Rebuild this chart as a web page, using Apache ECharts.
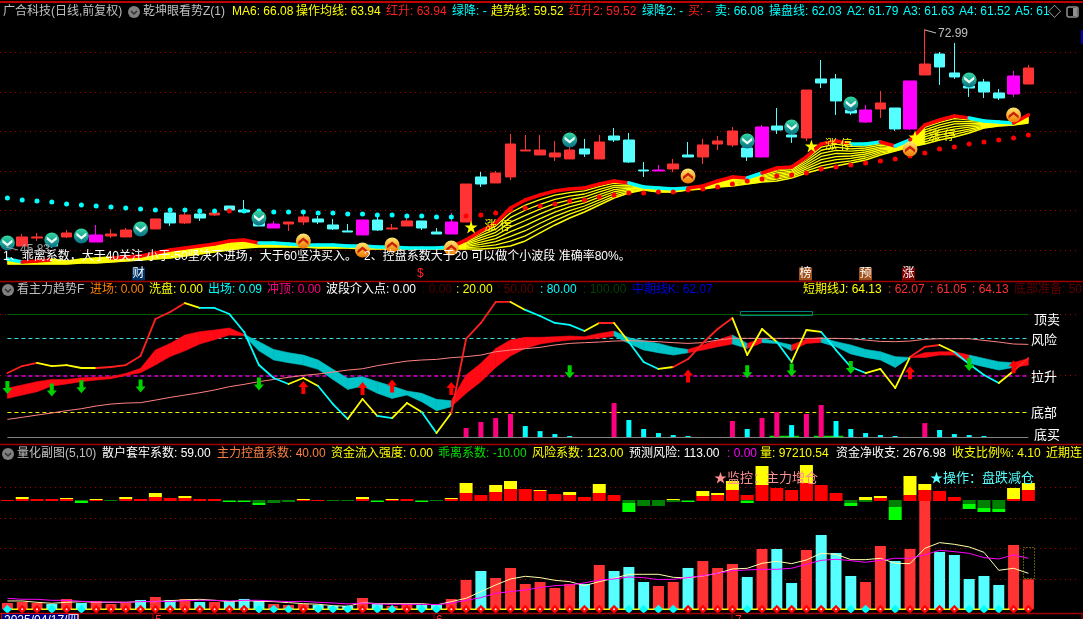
<!DOCTYPE html>
<html><head><meta charset="utf-8">
<style>html,body{margin:0;padding:0;background:#000;overflow:hidden}#c{width:1083px;height:619px}</style>
<script src="https://cdn.jsdelivr.net/npm/echarts@6/dist/echarts.min.js"></script></head>
<body><div id="c"></div>
<script>
const _ = null;
const candleKind = 'mrrcrcmrrcrcrcrcccmrrcccmcrrccmrcrrrrrrcrcccmrcrrrcmccrcccmrcmrcccccmr'.split('');
const bodyTop = [46.48,46.98,46.98,47.1,47.48,47.48,47.23,47.35,47.85,48.48,49.23,49.98,49.73,49.85,49.98,50.85,50.35,49.35,48.6,48.85,49.48,49.23,48.48,47.73,49.1,49.1,48.1,48.98,48.98,47.6,48.85,53.6,54.48,54.98,58.6,57.85,57.85,57.48,57.85,57.98,58.85,59.6,59.1,55.35,55.35,56.1,57.23,58.48,58.98,60.23,58.1,60.73,60.85,59.73,65.35,66.73,66.73,62.85,62.85,63.73,63.1,66.48,68.6,69.85,67.48,65.85,66.35,64.98,67.1,68.1];
const bodyBottom = [45.85,45.85,46.85,45.85,46.98,46.73,46.35,47.1,46.98,47.6,47.98,48.73,48.73,49.35,49.73,50.35,50.1,48.35,48.1,48.6,48.85,48.85,47.98,47.6,47.23,47.85,47.98,48.35,48.1,47.35,47.35,48.85,53.6,53.73,54.48,57.73,57.23,56.98,56.73,57.35,56.73,59.1,56.35,55.23,55.23,55.48,56.98,56.98,58.6,58.48,56.98,56.98,60.35,59.48,59.35,66.23,63.98,62.48,61.35,62.98,60.48,60.48,67.23,68.23,66.98,65.6,65.1,64.35,64.85,66.1];
const wickHigh = [46.48,47.35,47.48,47.35,47.85,47.73,48.48,47.98,48.1,48.73,49.23,50.6,50.1,50.35,50.35,50.85,51.6,49.85,48.98,48.85,49.85,49.6,49.23,48.6,49.1,49.48,48.6,49.35,48.98,48.1,49.98,53.6,55.1,55.23,59.85,59.73,59.73,58.98,58.35,59.23,59.73,60.6,59.98,56.35,55.98,56.73,58.85,59.23,59.6,60.73,58.6,60.98,63.1,60.35,65.35,69.1,67.35,63.35,63.48,65.23,63.1,66.48,72.99,70.1,71.23,66.35,66.73,65.48,67.73,68.48];
const wickLow = [45.83,45.85,46.48,45.6,46.85,46.48,46.35,46.85,46.98,47.35,47.98,48.35,48.6,48.98,49.6,50.23,49.98,48.35,48.1,47.73,48.48,48.6,47.85,47.6,47.23,47.73,47.85,48.35,47.85,47.35,47.35,48.85,53.23,53.73,54.1,57.73,57.23,56.48,56.73,56.98,56.73,58.85,56.23,54.48,55.23,55.1,56.98,56.1,57.85,58.23,56.48,56.98,59.85,58.73,58.98,65.6,62.23,62.23,61.23,61.85,60.23,60.35,67.23,65.98,66.73,64.48,64.35,64.1,64.48,66.1];
const bandTop = [44.23,43.85,43.98,44.1,43.85,44.1,44.23,44.35,44.48,44.6,44.98,45.35,45.6,45.85,46.1,46.48,46.6,46.23,46.23,46.1,45.98,45.98,45.98,45.85,45.85,45.73,45.73,45.6,45.6,45.6,45.73,46.6,47.73,48.73,50.6,51.6,52.23,52.73,52.98,53.1,53.6,53.98,53.73,53.23,53.1,52.98,53.1,53.35,53.98,54.48,54.35,54.98,55.6,55.73,56.98,58.6,58.98,58.6,58.6,58.85,58.35,59.1,60.98,61.6,62.1,61.85,61.48,61.35,61.23,62.23];
const bandBottom = [43.6,43.6,43.6,43.6,43.6,43.73,43.73,43.85,43.98,44.1,44.23,44.35,44.6,44.85,45.1,45.35,45.6,45.73,45.73,45.73,45.73,45.6,45.6,45.6,45.48,45.48,45.48,45.48,45.48,45.48,45.48,45.48,45.48,45.6,45.85,46.48,47.48,48.48,49.35,50.1,50.98,51.85,52.48,52.85,52.6,52.6,52.85,52.98,53.23,53.35,53.6,53.85,53.98,54.35,54.98,55.48,55.85,56.23,56.6,57.23,57.73,58.23,58.6,59.1,59.48,59.98,60.6,60.85,60.98,61.23];
const bandTopKind = 'crryyyyrrrrrrrrrrcccccccccccccrrrrrrrrrrrrccccrrrrcrrrrrrccrcrrrrcccrr'.split('');
const hatchLead = [_,_,_,_,_,_,_,_,_,_,_,_,_,_,_,_,_,_,_,_,_,_,_,_,_,_,_,_,_,_,_];
const A1 = [46.46,47.45,48.34,50.01,50.96,51.64,52.2,52.53,52.73,53.27,53.71,53.57,53.18,53.04,52.93,53.07,53.3,53.89,54.34,54.26,54.84,55.4,55.56,56.73,58.21,58.59,58.3,58.35,58.65,58.27,58.99,60.68,61.29,61.77,61.62,61.37,61.29,61.2,62.1];
const A2 = [46.32,47.17,47.95,49.42,50.32,51.05,51.67,52.08,52.35,52.94,53.44,53.41,53.13,52.98,52.88,53.04,53.25,53.8,54.2,54.17,54.7,55.2,55.39,56.48,57.82,58.2,58.0,58.1,58.45,58.19,58.88,60.38,60.98,61.44,61.39,61.26,61.23,61.17,61.98];
const A3 = [46.18,46.89,47.56,48.83,49.68,50.46,51.14,51.63,51.98,52.61,53.17,53.25,53.08,52.92,52.83,53.01,53.2,53.71,54.06,54.08,54.56,55.0,55.22,56.23,57.43,57.81,57.7,57.85,58.25,58.11,58.77,60.08,60.67,61.11,61.16,61.15,61.17,61.14,61.85];
const A4 = [46.04,46.61,47.17,48.24,49.04,49.87,50.61,51.18,51.6,52.28,52.9,53.09,53.03,52.86,52.78,52.98,53.15,53.62,53.92,53.99,54.42,54.8,55.05,55.98,57.04,57.42,57.4,57.6,58.05,58.03,58.66,59.78,60.36,60.78,60.93,61.04,61.11,61.11,61.73];
const A5 = [45.9,46.33,46.78,47.65,48.4,49.28,50.08,50.73,51.23,51.95,52.63,52.93,52.98,52.8,52.73,52.95,53.1,53.53,53.78,53.9,54.28,54.6,54.88,55.73,56.65,57.03,57.1,57.35,57.85,57.95,58.55,59.48,60.05,60.45,60.7,60.93,61.05,61.08,61.6];
const A6 = [45.76,46.05,46.39,47.06,47.76,48.69,49.55,50.28,50.85,51.62,52.36,52.77,52.93,52.74,52.68,52.92,53.05,53.44,53.64,53.81,54.14,54.4,54.71,55.48,56.26,56.64,56.8,57.1,57.65,57.87,58.44,59.18,59.74,60.12,60.47,60.82,60.99,61.05,61.48];
const A7 = [45.62,45.77,46.0,46.47,47.12,48.1,49.02,49.83,50.48,51.29,52.09,52.61,52.88,52.68,52.63,52.89,53.0,53.35,53.5,53.72,54.0,54.2,54.54,55.23,55.87,56.25,56.5,56.85,57.45,57.79,58.33,58.88,59.43,59.79,60.24,60.71,60.93,61.02,61.35];
const stopCyan = [51.85,51.6,51.48,51.35,51.1,50.98,50.85,50.73,50.6,50.48,50.35,50.35,50.35,50.23,50.23,_,50.23,50.23,50.1,50.1,50.1,49.98,49.98,49.85,49.85,49.73,49.73,49.6,49.6,49.48,49.48];
const stopRed = [_,_,_,_,_,_,_,_,_,_,_,_,_,_,_,50.23,_,_,_,_,_,_,_,_,_,_,_,_,_,_,_,49.6,49.73,49.98,50.35,50.6,50.85,51.1,51.48,51.6,51.98,52.23,52.48,52.48,52.6,52.6,52.85,52.98,53.23,53.6,53.98,54.23,54.6,54.73,54.98,55.48,55.73,55.98,56.23,56.48,56.73,57.1,57.48,57.98,58.23,58.6,58.85,59.1,59.35,59.73];
const downIcons = [[0,46.23],[3,46.6],[5,47.1],[9,47.98],[17,49.35],[38,59.1],[50,58.98],[53,60.73],[57,63.6],[65,66.6]];
const upIcons = [[20,46.48],[24,45.35],[26,45.98],[30,45.6],[46,54.6],[61,57.98],[68,62.23]];
const starMarks = [[31,48.23],[54,58.35],[61,59.48]];
const priceGrid = [70.1,65.1,60.2,55.25,50.35,45.35];

const lineJ = [52,57.7,60.2,57.7,58.5,56.1,56.1,56.9,58.5,65.9,95.9,101.6,108.9,104.9,104.9,100,85.4,58.5,48,43.1,48,41.5,26.8,14.6,30.9,17.1,15.4,27.6,20.3,3.3,19.5,79.7,92.7,109.8,109.8,103.3,98.4,92.7,91.1,86.2,92.7,92.7,77.2,61,55.3,56.9,63.4,76.4,87.8,96.7,66.7,87.8,77.2,61,87,85.4,70.7,56.9,52,55.3,39.8,65,73.2,74.8,69.1,59.3,50.4,43.9,53.7,64.13];
const lineJKind = ('rryyyyrrrr'+'rryccccccy'+'yccyycyycy'+'rrrryccccy'+'ryccyrrrry'+'yycyycccyy'+'yrrycccyrr').split('');
const ribbonUpper = [39.6,42.3,45,46.8,46.8,48.2,48.5,49,51.7,55.8,70.7,76.1,82.9,85.6,87,88.6,83.4,77.5,71.2,68.5,66.6,62.6,55,47.7,49,45,41.4,37.4,35.5,30.6,29.5,50.4,59.9,72,78.8,81,81,81.5,82.1,81.5,84.2,86.1,80.7,78.3,76.1,72.9,71.2,74.8,78.8,82.9,76.1,80.2,77.5,74.8,79.4,81,77.5,74.8,71.2,69.3,65.3,64.7,68.5,69.3,69.3,66.6,63.9,61.2,60.4,63.9];
const ribbonLower = [31.4,34.1,36.8,41.4,43.1,45,46.3,47.4,50.1,52.3,58.5,65.5,70.1,75.6,79.1,82.9,82.3,70.1,62.6,60.4,58.5,55,46.8,38.7,41.4,35.5,31.4,34.1,28.7,21.4,24.6,35.5,45,56.6,65.8,72,75.6,77.5,78.8,79.4,80.2,82.1,76.1,70.7,68.5,66.6,68.5,70.7,73.4,75.6,72,76.7,76.1,70.1,76.1,76.9,73.4,67.5,64.7,62.6,56.6,64.7,64.7,66.6,66.6,59.9,57.2,54.4,56.6,58.5];
const ribbonKind = ('rrrrrrrrrr'+'rrrrrrtttt'+'tttttttttt'+'rrrrrrrrrr'+'rtttttrrrt'+'rttrrttttt'+'trrrrtttrr').split('');
const slowLine = [14.3,16,17.8,19.5,21.4,23,25.2,26.8,27.6,27.9,30,32.2,34.1,36,38.2,40.9,42.8,45,46.8,48.5,50.1,51.2,52.8,54.4,55.5,58,59.9,61.7,62.6,63.1,64.5,65.3,66.6,69.3,70.7,71.8,72.9,74.8,76.1,76.7,77.2,78,78.3,78,77.5,76.7,76.1,76.7,78.8,80.2,80.2,80.2,80.2,80.2,80.2,80.2,80.2,79.9,78.8,77.7,77.5,78,79.4,79.9,79.9,79.9,78.5,77.2,75.6,75.3];
const pinkBars = [_,_,_,_,_,_,_,_,_,_,_,_,_,_,_,_,_,_,_,_,_,_,_,_,_,_,_,_,_,_,_,7.3,12.2,15.4,18.7,_,_,_,_,_,_,27.6,_,_,_,_,_,_,_,13,_,15.4,20.3,_,18.7,26,_,_,_,_,_,_,11.3,_,_,_,_,_,_,_];
const cyanBars = [_,_,_,_,_,_,_,_,_,_,_,_,_,_,_,_,_,_,_,_,_,_,_,_,_,_,_,_,_,_,_,_,_,_,_,8.9,4.8,2.4,.8,_,_,_,13.8,6.5,3.2,1.6,.8,_,_,_,6.5,_,_,9.7,_,_,13,6.5,3.2,1.6,.8,_,_,5.7,2.4,1.6,.8,_,_,_];
const greenBase = [52,53,55,56];
const greenArrows = [[0,40.3],[3,38.2],[5,40.9],[9,41.4],[17,43.1],[38,53.1],[50,53.1],[53,54.4],[57,56.6],[65,59]];
const redArrows = [[20,40.3],[24,39.5],[26,41.4],[30,39.5],[46,49.6],[61,52.3],[68,57.2]];
const levels = [100,80,50,20,0];

const histRed = [4,8,8,8,8,0,4,0,8,8,16,12,12,8,8,0,0,0,0,0,4,4,0,0,8,0,4,8,0,0,8,32,24,36,48,48,40,28,24,16,32,24,0,0,0,0,0,20,24,44,24,64,52,44,72,64,32,0,0,12,0,24,44,40,16,0,0,0,8,44];
const histYellow = [0,8,0,0,4,0,4,0,8,0,16,0,8,0,0,0,0,0,0,0,4,0,0,0,8,0,4,0,0,0,4,40,0,28,32,0,4,0,12,0,36,0,0,0,0,8,0,20,8,36,0,76,0,0,72,0,0,0,16,8,0,76,24,0,0,0,0,0,44,28];
const histDark = [0,0,0,0,0,-4,0,-4,0,0,0,0,0,0,0,-4,-4,-12,-12,-8,0,0,-4,-4,0,-4,0,0,-4,-4,0,0,0,0,0,0,0,0,0,0,0,0,-12,-24,-24,-8,-4,0,0,0,-4,0,0,0,0,0,0,-12,-8,0,-28,0,0,0,0,-16,-32,-36,0,0];
const histBright = [0,0,0,0,0,-8,0,0,0,0,0,0,0,0,0,-4,-4,-8,0,0,0,0,0,0,0,-4,0,0,-4,0,0,0,0,0,0,0,0,0,0,0,0,0,-36,0,0,0,-4,0,0,0,-8,0,0,0,0,0,0,-12,0,0,-52,0,0,0,0,-20,-16,-12,0,0];
const volumes = [20520,23760,20520,17280,33480,20520,27000,17280,20520,30240,39960,30240,33480,23760,23760,27000,33480,27000,17280,14040,17280,14040,10800,10800,36720,17280,10800,17280,14040,14040,33480,95040,124200,101520,133920,82080,88560,69120,82080,82080,143640,124200,137160,88560,75600,88560,133920,156600,133920,146880,104760,195480,195480,85320,192240,240840,182520,108000,88560,205200,156600,195480,354240,185760,176040,98280,108000,78840,208440,97210.54];
const volKind = ('rrrcrcrrrc'+'rcrcrcccrr'+'rcccrcrrcc'+'rrcrrrrrrc'+'rcccrrcrrr'+'crccrcccrr'+'crrcccccrr').split('');
const dotKind = ('crrcrcrrrr'+'rrrrrrrccc'+'rcccrccrcc'+'rrrrrrrrrr'+'rrccccrrrr'+'crrrrrrccr'+'crrrrcccrr').split('');
const volMA5 = [27000,27000,22680,19440,22680,24840,22680,22680,22680,24840,24840,28080,30240,32400,29160,24840,28080,25920,24840,21600,18360,16200,11880,9720,21600,18360,18360,18360,18360,14040,24840,35640,57240,78840,98280,106920,102600,93960,89640,76680,89640,100440,113400,113400,113400,103680,101520,108000,116640,130680,132840,149040,155520,147960,159840,181440,178200,160920,160920,165240,149040,147960,197640,216000,210600,201960,184680,126360,132840,116640];
const volMA10 = [35640,32400,32400,29160,29160,25920,23760,23760,22680,24840,25920,24840,28080,29160,29160,27000,29160,29160,27000,24840,25920,22680,20520,17280,20520,17280,16200,16200,16200,15120,19440,29160,37800,51840,57240,62640,70200,76680,78840,85320,95040,98280,104760,102600,96120,97200,102600,109080,116640,125280,127440,129600,129600,132840,145800,158760,162000,157680,152280,158760,165240,165240,176040,191160,186840,181440,167400,163080,176040,165240];
const histGrid = [396000,295800,198600,98200];

const categories = candleKind.map((k,i)=>String(i)).concat(['','','']);
const header1 = [['广合科技(日线,前复权)',3,'#c0c0c0'],['乾坤眼看势Z(1)',143,'#c0c0c0'],['MA6: 66.08',232,'#ffff00'],['操作均线: 63.94',296,'#ffff00'],['红升: 63.94',386,'#ff2020'],['绿降: -',452,'#00ffff'],['趋势线: 59.52',491,'#ffff00'],['红升2: 59.52',569,'#ff2020'],['绿降2: -',642,'#00ffff'],['买: -',688,'#ff2020'],['卖: 66.08',715,'#00ffff'],['操盘线: 62.03',769,'#00ffff'],['A2: 61.79',847,'#00ffff'],['A3: 61.63',903,'#00ffff'],['A4: 61.52',959,'#00ffff'],['A5: 61',1015,'#00ffff']];
const header2 = [['看主力趋势F',17,'#c0c0c0'],['进场: 0.00',90,'#ff8000'],['洗盘: 0.00',149,'#ffff00'],['出场: 0.09',208,'#00ffff'],['冲顶: 0.00',267,'#ff0080'],['波段介入点: 0.00',326,'#ffffff'],[': 0.00',422,'#500000'],[': 20.00',456,'#ffff00'],[': 50.00',497,'#600000'],[': 80.00',540,'#00ffff'],[': 100.00',583,'#004000'],['中期线K: 62.07',632,'#0000e0'],['短期线J: 64.13',803,'#ffff00'],[': 62.07',888,'#ff3030'],[': 61.05',930,'#ff3030'],[': 64.13',972,'#ff3030'],['底部准备: 50',1014,'#600000']];
const header3 = [['量化副图(5,10)',17,'#c0c0c0'],['散户套牢系数: 59.00',102,'#ffffff'],['主力控盘系数: 40.00',217,'#ff8040'],['资金流入强度: 0.00',331,'#ffff00'],['乖离系数: -10.00',438,'#00e000'],['风险系数: 123.00',532,'#ffff00'],['预测风险: 113.00',629,'#ffffff'],[': 0.00',727,'#ff00ff'],['量: 97210.54',760,'#ffff00'],['资金净收支: 2676.98',836,'#ffffff'],['收支比例%: 4.10',952,'#ffff00'],['近期连',1046,'#ffff00']];
const rightLabels = [['顶卖',1034,320],['风险',1031,340],['拉升',1031,377],['底部',1031,413],['底买',1034,435]];
const noteA = '1、乖离系数，大于40关注 小于-50坚决不进场，大于60坚决买入。';
const noteB = '2、控盘系数大于20 可以做个小波段 准确率80%。';

const FONT = '"Liberation Sans","Noto Sans CJK SC",sans-serif';
const COL = {r:'#ff3333',c:'#55ffff',m:'#ff00ff'};
const n = candleKind.length;

function gridAt(top,height){return {left:-1.71,width:1081.86,top,height,containLabel:false,show:false};}
function segs(name,values,kinds,map,width,x,y,z){
  return {type:'custom',name,xAxisIndex:x,yAxisIndex:y,z,silent:true,clip:false,
    data:values.slice(0,-1).map((v,i)=>[i,v,values[i+1]]),encode:{x:0,y:1},
    renderItem(p,api){
      const i=api.value(0),a=api.coord([i,api.value(1)]),b=api.coord([i+1,api.value(2)]);
      return {type:'line',shape:{x1:a[0],y1:a[1],x2:b[0],y2:b[1]},style:{stroke:map[kinds[i]],lineWidth:width,lineCap:'round'}};
    }};
}
function ribbon(name,up,lo,colorOf,x,y,z){
  return {type:'custom',name,xAxisIndex:x,yAxisIndex:y,z,silent:true,clip:false,
    data:up.slice(0,-1).map((v,i)=>[i,v,lo[i],up[i+1],lo[i+1]]),encode:{x:0,y:1},
    renderItem(p,api){
      const i=api.value(0),c=colorOf(i,api.value(1)-api.value(2));
      if(!c) return null;
      const pts=[api.coord([i,api.value(1)]),api.coord([i+1,api.value(3)]),api.coord([i+1,api.value(4)]),api.coord([i,api.value(2)])];
      return {type:'polygon',shape:{points:pts},style:{fill:c,stroke:c,lineWidth:.6}};
    }};
}
function candleSeries(kind,barWidth){
  const color=COL[kind];
  return {type:'candlestick',name:kind,xAxisIndex:0,yAxisIndex:0,z:4,barWidth,silent:true,
    itemStyle:{color,color0:color,borderColor:color,borderColor0:color,borderWidth:1},
    data:candleKind.map((k,i)=>k===kind?[bodyBottom[i],bodyTop[i],wickLow[i],wickHigh[i]]:['-','-','-','-'])};
}
function hatch(name,vals){
  return {type:'line',name,xAxisIndex:0,yAxisIndex:0,z:3,silent:true,showSymbol:false,symbol:'none',
    data:hatchLead.concat(vals),lineStyle:{color:'#ffff00',width:1.3}};
}
function dots(name,x,symbol,size,data,color,z,extra){
  return Object.assign({type:'scatter',name,xAxisIndex:x,yAxisIndex:x,z,silent:true,symbol,symbolSize:size,data,itemStyle:{color,opacity:1}},extra||{});
}
const dottedLine = (vals,y,color) => ({type:'line',xAxisIndex:y,yAxisIndex:y,data:[],silent:true,z:1,
  markLine:{silent:true,symbol:'none',z:1,label:{show:false},animation:false,lineStyle:{color,type:[1,4],width:1},data:vals.map(v=>({yAxis:v}))}});
const levelStyle = {100:['#006000','solid',1],80:['#33dddd',[4,3],1.2],50:['#e000e0',[4,3],1.6],20:['#eeee00',[4,3],1.2],0:['#808080','solid',1]};

const downPath='path://M0 0L5 4L10 0V3L5 7L0 3Z';
const upPath='path://M0 7L5 3L10 7V4L5 0L0 4Z';
const arrowDown='path://M3 0H7V7H10L5 13L0 7H3Z';
const arrowUp='path://M5 0L10 6H7V13H3V6H0Z';
const starPath='path://M50 0L61 35H98L68 57L79 91L50 70L21 91L32 57L2 35H39Z';
const gradDown={type:'linear',x:0,y:0,x2:0,y2:1,colorStops:[{offset:0,color:'#33d8a0'},{offset:1,color:'#0b6f86'}]};
const gradUp={type:'linear',x:0,y:0,x2:0,y2:1,colorStops:[{offset:0,color:'#ffe870'},{offset:1,color:'#f07800'}]};

const series=[
  dottedLine(priceGrid,0,'#a00000'),
  ribbon('bandSolid',bandTop,bandBottom,(i,d)=>(i<31||d<1)?'#ffff00':null,0,0,2),
  hatch('A1',A1),hatch('A2',A2),hatch('A3',A3),hatch('A4',A4),hatch('A5',A5),hatch('A6',A6),hatch('A7',A7),
  {type:'line',name:'bandBottom',xAxisIndex:0,yAxisIndex:0,z:3,silent:true,symbol:'none',data:bandBottom,lineStyle:{color:'#ffff00',width:1.5}},
  segs('bandTop',bandTop,bandTopKind,{r:'#ff0000',c:'#00ffff',y:'#ffff00'},3.6,0,0,4),
  candleSeries('r',11),candleSeries('c',11),candleSeries('m',13),
  dots('stopCyan',0,'circle',5,stopCyan,'#00ffff',5),
  dots('stopRed',0,'circle',5,stopRed,'#ff0000',5),
  dots('starMarks',0,starPath,13,starMarks,'#ffff00',6,{symbolOffset:[5,0],
    label:{show:true,position:'right',distance:2,formatter:'涨 停',color:'#ffff00',fontFamily:FONT,fontSize:12,offset:[5,0]}}),
  dots('downIcons',0,'circle',15,downIcons,gradDown,7),
  dots('downChevron',0,downPath,[10,7],downIcons,'#e8fff8',8),
  dots('upIcons',0,'circle',15,upIcons,gradUp,7),
  dots('upChevron',0,upPath,[10,7],upIcons,'#c82000',8),

  dottedLine([100,50],1,'#a00000'),
  {type:'line',xAxisIndex:1,yAxisIndex:1,data:[],silent:true,z:2,markLine:{silent:true,symbol:'none',z:2,label:{show:false},animation:false,
    data:levels.map(v=>[{coord:[0,v],lineStyle:{color:levelStyle[v][0],type:levelStyle[v][1],width:levelStyle[v][2]}},{coord:[n-1,v]}])}},
  {type:'bar',name:'pink',xAxisIndex:1,yAxisIndex:1,z:3,silent:true,stack:'b',barWidth:5,data:pinkBars,itemStyle:{color:'#ff0080'}},
  {type:'bar',name:'cyan',xAxisIndex:1,yAxisIndex:1,z:3,silent:true,stack:'b',barWidth:5,data:cyanBars,itemStyle:{color:'#00ffff'}},
  {type:'custom',name:'greenBase',xAxisIndex:1,yAxisIndex:1,z:3,silent:true,clip:false,data:greenBase.map(i=>[i,1]),encode:{x:0,y:1},
    renderItem(p,api){const a=api.coord([api.value(0),api.value(1)]),s=api.size([1,0]);
      return {type:'rect',shape:{x:a[0]-s[0]/2,y:a[1],width:s[0],height:1.5},style:{fill:'#00e000'}};}},
  ribbon('ribbon',ribbonUpper,ribbonLower,i=>({r:'#ff0a14',t:'#00c4c8'})[ribbonKind[i]],1,1,4),
  {type:'line',name:'slow',xAxisIndex:1,yAxisIndex:1,z:5,silent:true,symbol:'none',data:slowLine,lineStyle:{color:'#ff8080',width:1}},
  segs('J',lineJ,lineJKind,{r:'#ff2020',y:'#ffff00',c:'#00ffff'},1.8,1,1,6),
  dots('greenArrows',1,arrowDown,[10,13],greenArrows,'#00d000',7),
  dots('redArrows',1,arrowUp,[10,13],redArrows,'#ff0000',7),

  dottedLine(histGrid,3,'#a00000'),
  {type:'bar',name:'vol',xAxisIndex:3,yAxisIndex:3,z:2,silent:true,barWidth:11,
    data:volumes.map((v,i)=>({value:v,itemStyle:{color:COL[volKind[i]]}}))},
  {type:'line',name:'base',xAxisIndex:3,yAxisIndex:3,z:4,silent:true,symbol:'none',data:volumes.map(()=>0),lineStyle:{color:'#ffff00',width:1.5}},
  {type:'line',name:'MA5',xAxisIndex:3,yAxisIndex:3,z:4,silent:true,symbol:'none',data:volMA5,lineStyle:{color:'#ffffaa',width:1}},
  {type:'line',name:'MA10',xAxisIndex:3,yAxisIndex:3,z:4,silent:true,symbol:'none',data:volMA10,lineStyle:{color:'#ff00ff',width:1}},
  dots('dotRed',3,'diamond',9,dotKind.map((k,i)=>k==='r'?[i,0]:[i,_]),'#ff0000',5),
  dots('dotCyan',3,'diamond',9,dotKind.map((k,i)=>k==='c'?[i,0]:[i,_]),'#00ffff',5),
  dots('dotGlint',3,'circle',2,dotKind.map((k,i)=>k==='r'?[i,0]:[i,_]),'#ffffff',6),
  {type:'bar',name:'histRed',xAxisIndex:2,yAxisIndex:2,z:3,silent:true,stack:'h',barWidth:13,data:histRed,itemStyle:{color:'#ff0000'}},
  {type:'bar',name:'histYellow',xAxisIndex:2,yAxisIndex:2,z:3,silent:true,stack:'h',barWidth:13,data:histYellow,itemStyle:{color:'#ffff00'}},
  {type:'bar',name:'histDark',xAxisIndex:4,yAxisIndex:4,z:4,silent:true,stack:'g',barWidth:13,data:histDark,itemStyle:{color:'#008000'}},
  {type:'bar',name:'histBright',xAxisIndex:4,yAxisIndex:4,z:4,silent:true,stack:'g',barWidth:13,data:histBright,itemStyle:{color:'#00ff00'}}
];

function T(text,x,y,fill,size,extra){return Object.assign({type:'text',z:50,silent:true,style:Object.assign({text,x,y,fill,font:(size||12)+'px '+FONT,textVerticalAlign:'middle'},extra||{})});}
function L(x1,y1,x2,y2,stroke,w,dash){return {type:'line',z:45,silent:true,shape:{x1,y1,x2,y2},style:{stroke,lineWidth:w||1,lineDash:dash}};}
function menuDot(x,y){return [{type:'circle',z:50,silent:true,shape:{cx:x,cy:y,r:6},style:{fill:'#808080'}},
  {type:'polyline',z:51,silent:true,shape:{points:[[x-3,y-1],[x,y+2],[x+3,y-1]]},style:{stroke:'#303030',lineWidth:1.5,fill:'none'}}];}
const tag=(t,x,y,bg,fg)=>({type:'group',z:50,silent:true,children:[{type:'rect',shape:{x:x,y:y-6.5,width:13,height:13},style:{fill:bg}},{type:'text',style:{text:t,x:x+.5,y:y,fill:fg||'#ffffff',font:'12px '+FONT,textVerticalAlign:'middle'}}]});

const graphic=[
  L(0,2,1083,2,'#c00000',2),L(0,281.5,1083,281.5,'#a00000',1.5),L(0,444.5,1083,444.5,'#a00000',1.5),L(0,613.5,1083,613.5,'#a00000',1.5),
  ...[78,153,434,732,1082].map(x=>L(x,613,x,619,'#a00000',1)),
  ...header1.map(h=>T(h[0],h[1],12,h[2],12)),
  ...header2.map(h=>T(h[0],h[1],290,h[2],12)),
  ...header3.map(h=>T(h[0],h[1],454,h[2],12)),
  ...menuDot(134,12),...menuDot(8,290),...menuDot(8,454),
  T('◇',1048,12,'#c0c0c0',13),
  {type:'rect',z:50,silent:true,shape:{x:1067,y:7,width:11,height:10,r:2},style:{fill:'none',stroke:'#909090',lineWidth:1.5}},
  {type:'rect',z:50,silent:true,shape:{x:1073,y:8,width:4,height:8},style:{fill:'#909090'}},
  {type:'rect',z:50,silent:true,shape:{x:1081,y:30,width:2,height:14},style:{fill:'#0000c0'}},
  T(noteA,3,257,'#ffffff',12),T(noteB,364,257,'#ffffff',12),
  T('45.83',20,250,'#a0a0a0',12),L(6,247,18,250,'#a0a0a0',1),
  T('72.99',938,34,'#c0c0c0',12),L(925,30,936,33,'#c0c0c0',1),
  tag('财',132,274,'#003366'),tag('榜',799,274,'#a0501a'),tag('预',859,274,'#a0501a'),tag('涨',902,274,'#800000'),
  T('$',417,274,'#ff2020',12),
  {type:'rect',z:45,silent:true,shape:{x:740.5,y:311.5,width:72,height:4},style:{fill:'none',stroke:'#008080',lineWidth:1}},
  ...rightLabels.map(r=>T(r[0],r[1],r[2],'#ffffff',13)),
  T('★监控：主力增仓',714,478,'#ff9090',13),T('★操作：盘跌减仓',930,478,'#55ffff',13),
  {type:'rect',z:45,silent:true,shape:{x:1023.5,y:547.5,width:11,height:31},style:{fill:'none',stroke:'#b0b000',lineWidth:1,lineDash:[1,2]}},
  {type:'rect',z:46,silent:true,shape:{x:1.5,y:613.5,width:77,height:8},style:{fill:'#000080',stroke:'#e00000',lineWidth:1}},
  T('2025/04/17/四',4,621,'#ffffff',12),
  T('5',155,621,'#ff3030',12),T('6',436,621,'#ff3030',12),T('7',735,621,'#ff3030',12)
];

const chart=echarts.init(document.getElementById('c'),null,{renderer:'canvas'});
const yA=(min,max,gridIndex)=>({type:'value',min,max,gridIndex,show:false,splitLine:{show:false},scale:false});
const xA=(gridIndex)=>({type:'category',data:categories,gridIndex,show:false,boundaryGap:true});
chart.setOption({
  animation:false,backgroundColor:'#000000',
  tooltip:{show:false},legend:{show:false},
  grid:[gridAt(8,264),gridAt(283.25,159.9),gridAt(461,150),gridAt(461,150),gridAt(461,150)],
  xAxis:[xA(0),xA(1),xA(2),xA(3),xA(4)],
  yAxis:[yA(42.6,75.6,0),yA(-5,125,1),yA(-440,160,2),yA(-5508,480492,3),yA(-444,156,4)],
  series,graphic
});
</script></body></html>
